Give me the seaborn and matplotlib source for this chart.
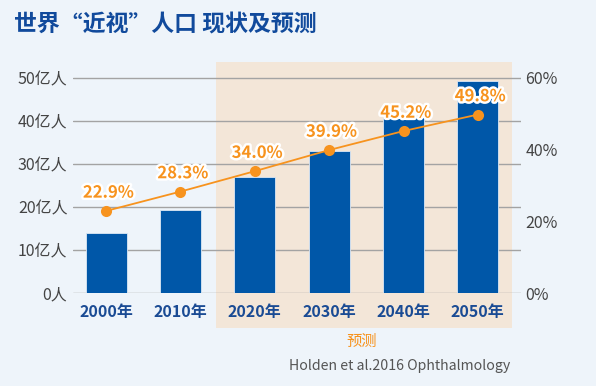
import matplotlib
matplotlib.use("Agg")
import matplotlib.pyplot as plt
import matplotlib.patheffects as pe
from matplotlib.patches import Rectangle
import seaborn as sns
import pandas as pd

years = ["2000年", "2010年", "2020年", "2030年", "2040年", "2050年"]
population = [14.0, 19.3, 27.0, 33.0, 40.9, 49.2]   # 亿人
myopia_pct = [22.9, 28.3, 34.0, 39.9, 45.2, 49.8]   # %
left_ticks = [0, 10, 20, 30, 40, 50]
left_labels = ["0人", "10亿人", "20亿人", "30亿人", "40亿人", "50亿人"]
right_ticks = [0, 20, 40, 60]
right_labels = ["0%", "20%", "40%", "60%"]

BG = "#eef4fa"
BLUE = "#0057a8"
ORANGE = "#f7931e"
SHADE = "#f3e6d8"
TITLE = "#114a9c"

sns.set_theme(style="white")
plt.rcParams["font.family"] = ["Noto Sans CJK SC", "DejaVu Sans"]

fig = plt.figure(figsize=(5.96, 3.86), dpi=100, facecolor=BG)
W, H = 596, 386
ax = fig.add_axes([73 / W, (H - 293) / H, 448 / W, (293 - 62) / H])
ax.set_facecolor("none")

ytop = 50 * (293 - 62) / (293 - 78)
ax.set_ylim(0, ytop)

df = pd.DataFrame({"year": years, "pop": population})
sns.barplot(data=df, x="year", y="pop", color=BLUE, saturation=1, width=0.55,
            edgecolor="#dce8f5", linewidth=0.6, ax=ax, zorder=3)
ax.set_xlim(-0.445, 5.58)

# forecast shading
x0 = 1.48
x1 = 5.46
ax.add_patch(Rectangle((x0, -8.1), x1 - x0, ytop + 8.1, facecolor=SHADE,
                       edgecolor="none", clip_on=False, zorder=0))

for t in left_ticks:
    ax.axhline(t, color="#a3a3a3", lw=1.0, zorder=1)

ax.set_yticks(left_ticks)
ax.set_yticklabels(left_labels, fontsize=11.5, color="#444444")
ax.tick_params(axis="y", length=0, pad=4)
ax.tick_params(axis="x", length=0, pad=8)
for lab in ax.get_xticklabels():
    lab.set_fontsize(11.5)
    lab.set_fontweight("bold")
    lab.set_color("#1a4b94")
ax.set_xlabel("")
ax.set_ylabel("")
for s in ax.spines.values():
    s.set_visible(False)

ax2 = ax.twinx()
ax2.set_ylim(0, 60 * ytop / 50)
positions = list(range(len(years)))
sns.lineplot(x=positions, y=myopia_pct, ax=ax2, color=ORANGE, lw=1.3,
             marker="o", markersize=8, markeredgewidth=0, zorder=5)
for p, v in zip(positions, myopia_pct):
    ax2.text(p + 0.03, v + 2.6, f"{v:.1f}%", ha="center", va="bottom",
             fontsize=12, fontweight="bold", color=ORANGE, zorder=6,
             path_effects=[pe.withStroke(linewidth=3.5, foreground="white")])
ax2.set_yticks(right_ticks)
ax2.set_yticklabels(right_labels, fontsize=11.5, color="#444444")
ax2.tick_params(axis="y", length=0, pad=3)
ax2.set_ylabel("")
for s in ax2.spines.values():
    s.set_visible(False)

fig.text(14 / W, 1 - 25 / H, "世界“近视”人口 现状及预测", fontsize=16.5,
         fontweight="bold", color=TITLE, ha="left", va="center")
fig.text(362 / W, 1 - 341 / H, "预测", fontsize=11, color=ORANGE,
         ha="center", va="center")
fig.text(510 / W, 1 - 366 / H, "Holden et al.2016 Ophthalmology", fontsize=10.2,
         color="#555555", ha="right", va="center")

fig.savefig("out.png", dpi=100, facecolor=BG)
